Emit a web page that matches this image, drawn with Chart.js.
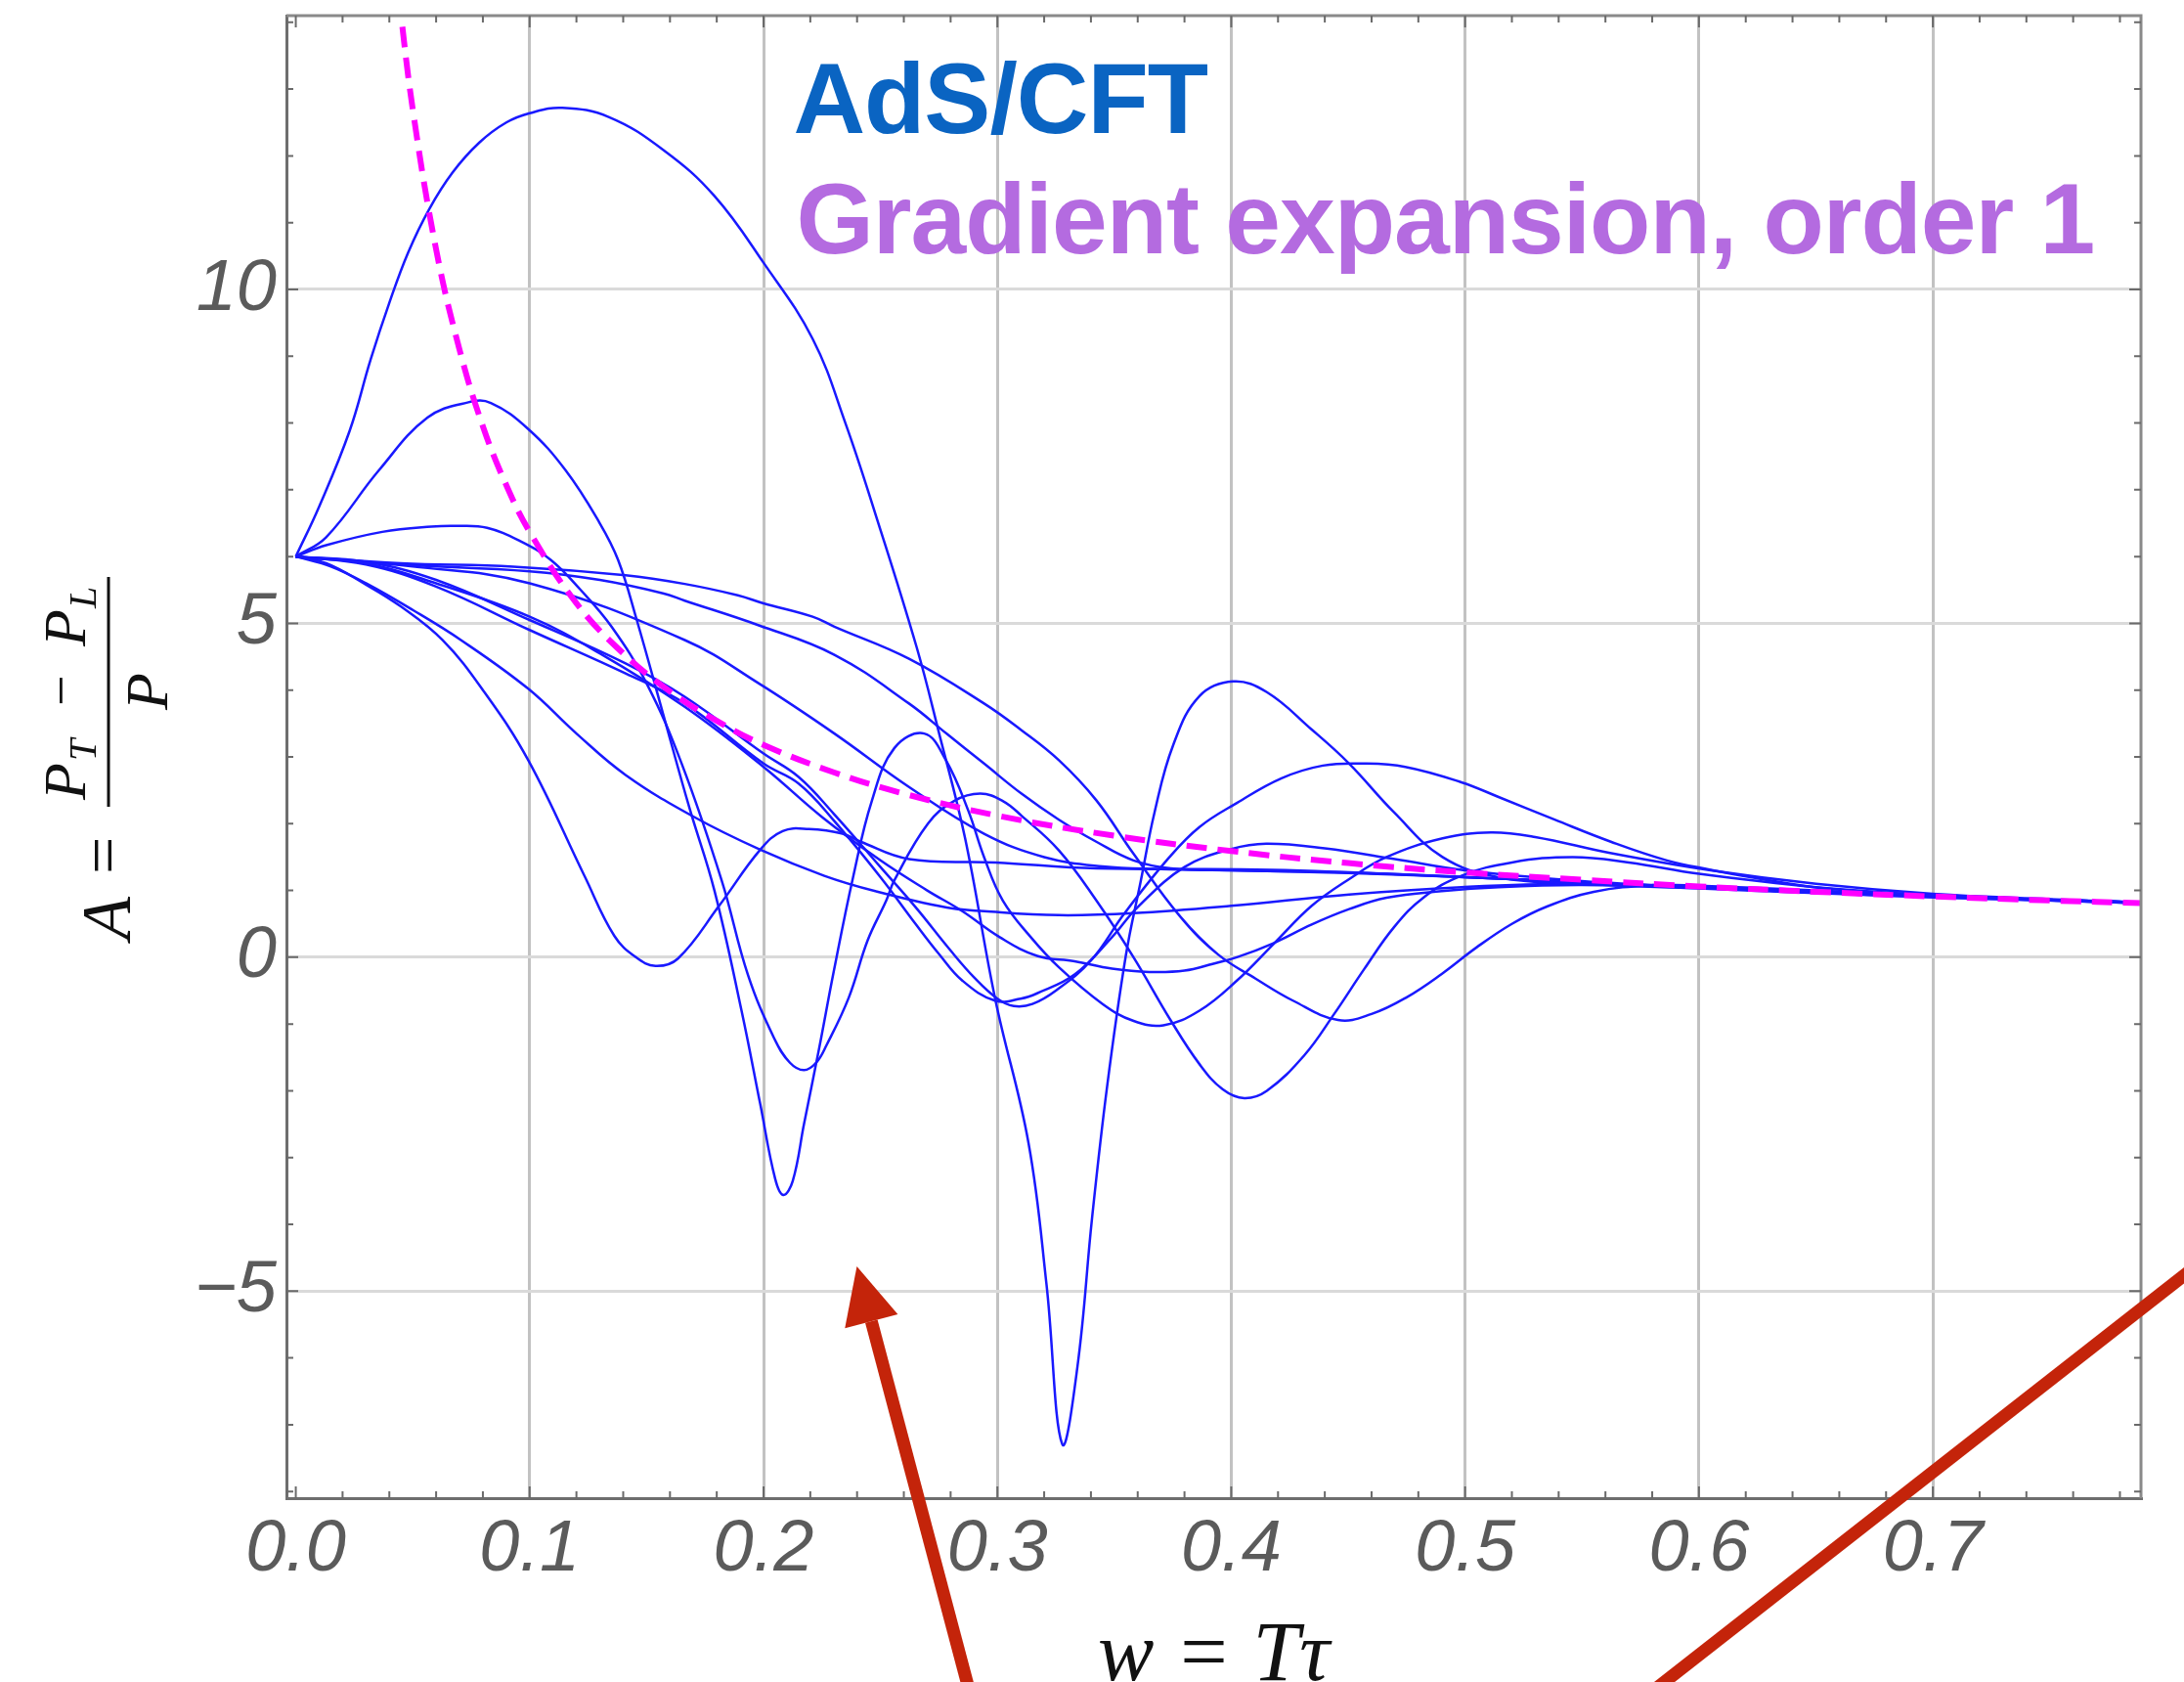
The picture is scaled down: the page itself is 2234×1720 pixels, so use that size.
<!DOCTYPE html>
<html>
<head>
<meta charset="utf-8">
<script src="https://cdn.jsdelivr.net/npm/chart.js@4.4.1/dist/chart.umd.min.js"></script>
<style>
  html, body { margin: 0; padding: 0; background: #fff; overflow: hidden; }
  canvas { display: block; }
</style>
</head>
<body>
<canvas id="myChart" width="2234" height="1760"></canvas>
<script>
// axis ticks
const xTicks = [0, 0.1, 0.2, 0.3, 0.4, 0.5, 0.6, 0.7];
const yTicks = [-5, 0, 5, 10];

// gradient expansion, order 1 (magenta dashed)
const gradW = [0.044, 0.05, 0.06, 0.07, 0.08, 0.09, 0.1, 0.12, 0.14, 0.16, 0.18, 0.2, 0.23, 0.26, 0.3, 0.35, 0.4, 0.45, 0.5, 0.55, 0.6, 0.65, 0.7, 0.75, 0.79];
const gradA = [14.4, 12.7, 10.6, 9.1, 7.95, 7.07, 6.37, 5.3, 4.55, 3.98, 3.54, 3.18, 2.77, 2.45, 2.12, 1.82, 1.59, 1.41, 1.27, 1.16, 1.06, 0.98, 0.91, 0.85, 0.81];

// AdS/CFT runs as [w, A] pairs
const runBig = [[0,6],[0.01,6.75],[0.023,7.88],[0.032,8.95],[0.04,9.8],[0.048,10.55],[0.057,11.2],[0.067,11.75],[0.0785,12.2],[0.09,12.5],[0.1,12.64],[0.114,12.72],[0.134,12.58],[0.1575,12.08],[0.179,11.4],[0.2,10.4],[0.221,9.26],[0.235,8.0],[0.248,6.62],[0.2655,4.64],[0.2751,3.35],[0.2862,1.78],[0.2991,-0.63],[0.3133,-2.78],[0.321,-4.9],[0.3277,-7.29],[0.3342,-6.14],[0.3405,-3.9],[0.3469,-1.94],[0.3549,0.02],[0.3613,1.14],[0.3672,2.17],[0.3752,3.18],[0.3864,3.91],[0.4008,4.13],[0.4152,3.97],[0.4344,3.41],[0.4504,2.9],[0.4696,2.17],[0.4903,1.5],[0.514,1.2],[0.55,1.1],[0.6,1.03],[0.65,0.96],[0.7,0.9],[0.75,0.85],[0.789,0.81]];
const runMedium = [[0,6],[0.013,6.29],[0.0355,7.29],[0.0563,8.08],[0.0738,8.31],[0.0834,8.3],[0.0994,7.91],[0.1154,7.29],[0.1298,6.51],[0.1378,5.95],[0.1458,5.05],[0.157,3.65],[0.1682,2.25],[0.179,1.0],[0.1906,-0.8],[0.1986,-2.2],[0.205,-3.32],[0.2085,-3.56],[0.2125,-3.35],[0.2173,-2.5],[0.2237,-1.38],[0.2301,-0.2],[0.2383,1.2],[0.2463,2.34],[0.2559,3.13],[0.2687,3.35],[0.278,2.95],[0.2875,2.2],[0.2943,1.5],[0.3023,0.85],[0.3143,0.3],[0.3263,-0.15],[0.345,-0.7],[0.358,-0.95],[0.371,-1.02],[0.3864,-0.8],[0.4024,-0.35],[0.4184,0.21],[0.4344,0.77],[0.4504,1.17],[0.4664,1.5],[0.4904,1.78],[0.511,1.87],[0.53,1.8],[0.562,1.56],[0.605,1.3],[0.65,1.1],[0.7,0.95],[0.75,0.87],[0.789,0.82]];
const runSmall = [[0,6],[0.013,6.17],[0.037,6.37],[0.058,6.45],[0.069,6.46],[0.0818,6.43],[0.096,6.23],[0.109,5.95],[0.1218,5.5],[0.135,4.95],[0.15,4.1],[0.165,2.9],[0.1822,1.14],[0.1933,-0.26],[0.2045,-1.21],[0.2113,-1.58],[0.2173,-1.69],[0.2225,-1.58],[0.2269,-1.32],[0.2365,-0.6],[0.2445,0.25],[0.2525,0.85],[0.2559,1.15],[0.2703,2.0],[0.2815,2.34],[0.2927,2.45],[0.3023,2.34],[0.3103,2.12],[0.3263,1.6],[0.3423,0.85],[0.3582,0.0],[0.3742,-0.95],[0.3864,-1.6],[0.3964,-1.98],[0.4056,-2.11],[0.4152,-2.0],[0.4312,-1.47],[0.444,-0.85],[0.4568,-0.18],[0.4696,0.45],[0.4824,0.9],[0.4984,1.22],[0.52,1.42],[0.546,1.5],[0.57,1.42],[0.6,1.25],[0.65,1.05],[0.7,0.93],[0.75,0.86],[0.789,0.81]];
const runFastDrop = [[0,6],[0.013,5.9],[0.029,5.6],[0.045,5.25],[0.0627,4.75],[0.08,4.0],[0.0994,2.95],[0.1234,1.22],[0.1362,0.32],[0.1454,0.0],[0.1538,-0.13],[0.1634,-0.02],[0.181,0.77],[0.1986,1.61],[0.2082,1.89],[0.2194,1.92],[0.2338,1.85],[0.2415,1.73],[0.2622,1.47],[0.2991,1.42],[0.3423,1.33],[0.417,1.31],[0.5,1.2],[0.55,1.12],[0.6,1.04],[0.65,0.97],[0.7,0.91],[0.789,0.82]];
const runSlowDrop = [[0,6],[0.015,5.85],[0.03,5.6],[0.05,5.2],[0.0706,4.75],[0.0994,4.02],[0.12,3.35],[0.141,2.73],[0.1698,2.11],[0.1986,1.61],[0.226,1.22],[0.2478,0.99],[0.2783,0.745],[0.2943,0.69],[0.3263,0.63],[0.3582,0.66],[0.4,0.77],[0.4504,0.94],[0.4984,1.05],[0.5463,1.1],[0.6,1.05],[0.65,0.97],[0.7,0.91],[0.789,0.82]];
const runShallowDip = [[0,6],[0.03,5.9],[0.06,5.6],[0.1,5.1],[0.13,4.55],[0.1663,3.75],[0.2,2.85],[0.225,2.1],[0.25,1.45],[0.27,1.0],[0.285,0.69],[0.301,0.3],[0.317,0.02],[0.333,-0.06],[0.349,-0.17],[0.365,-0.22],[0.38,-0.2],[0.392,-0.1],[0.4024,0.0],[0.418,0.21],[0.4344,0.49],[0.4504,0.72],[0.4664,0.89],[0.49,0.99],[0.5143,1.05],[0.55,1.08],[0.6,1.04],[0.65,0.97],[0.7,0.9],[0.789,0.81]];
const runTop = [[0,6],[0.045,5.9],[0.093,5.85],[0.141,5.72],[0.1663,5.59],[0.189,5.42],[0.2,5.3],[0.221,5.1],[0.2303,4.95],[0.2622,4.47],[0.2943,3.8],[0.3103,3.4],[0.3263,2.95],[0.3423,2.35],[0.3582,1.55],[0.3784,0.6],[0.3944,0.04],[0.4104,-0.32],[0.4264,-0.65],[0.4456,-0.94],[0.46,-0.85],[0.475,-0.6],[0.49,-0.25],[0.505,0.15],[0.52,0.5],[0.535,0.76],[0.555,0.98],[0.58,1.08],[0.6,1.07],[0.65,1.0],[0.7,0.92],[0.75,0.86],[0.789,0.81]];
const runSecond = [[0,6],[0.045,5.88],[0.1,5.78],[0.13,5.65],[0.157,5.45],[0.1663,5.34],[0.198,4.97],[0.2303,4.53],[0.2622,3.8],[0.2782,3.35],[0.2943,2.9],[0.3103,2.45],[0.3263,2.06],[0.3423,1.73],[0.3582,1.45],[0.3742,1.33],[0.4,1.3],[0.45,1.27],[0.5,1.2],[0.55,1.12],[0.6,1.04],[0.65,0.97],[0.7,0.91],[0.789,0.82]];
const runThird = [[0,6],[0.05,5.85],[0.1,5.6],[0.1663,4.75],[0.198,4.1],[0.2303,3.35],[0.2622,2.55],[0.2943,1.85],[0.32,1.5],[0.345,1.36],[0.37,1.32],[0.4,1.3],[0.45,1.26],[0.5,1.2],[0.55,1.12],[0.6,1.04],[0.65,0.97],[0.7,0.91],[0.789,0.82]];
const runDipEarly = [[0,6],[0.03,5.88],[0.06,5.55],[0.1,4.9],[0.141,4.25],[0.1663,3.8],[0.2,2.9],[0.215,2.6],[0.23,2.05],[0.25,1.2],[0.265,0.5],[0.275,0.05],[0.285,-0.35],[0.299,-0.65],[0.31,-0.62],[0.317,-0.54],[0.333,-0.26],[0.349,0.3],[0.36,0.75],[0.38,1.35],[0.4,1.62],[0.415,1.7],[0.44,1.63],[0.47,1.47],[0.5,1.3],[0.55,1.14],[0.6,1.05],[0.65,0.98],[0.7,0.91],[0.789,0.82]];
const runDipLate = [[0,6],[0.03,5.92],[0.06,5.65],[0.1,5.05],[0.141,4.4],[0.1663,3.9],[0.2,3.05],[0.215,2.7],[0.23,2.15],[0.25,1.35],[0.265,0.75],[0.28,0.1],[0.29,-0.3],[0.3,-0.62],[0.307,-0.73],[0.315,-0.7],[0.325,-0.5],[0.34,-0.05],[0.3544,0.66],[0.3736,1.5],[0.3864,1.95],[0.4024,2.31],[0.4215,2.68],[0.4392,2.87],[0.4568,2.9],[0.4744,2.85],[0.4984,2.62],[0.5143,2.4],[0.5383,2.06],[0.5623,1.73],[0.5863,1.45],[0.605,1.31],[0.622,1.2],[0.654,1.03],[0.702,0.92],[0.734,0.87],[0.789,0.81]];

const blueRuns = [runBig, runMedium, runSmall, runFastDrop, runSlowDrop, runShallowDip, runTop, runSecond, runThird, runDipEarly, runDipLate];

// red annotation arrows, in data units (tail, head)
const arrowTail = [0.2915, -11.45];
const arrowHead = [0.2399, -4.63];
const slashLine = [[0.5758, -11.11], [0.8182, -4.47]];

const datasets = [];
datasets.push({
  label: 'Gradient expansion, order 1',
  data: gradW.map((w, i) => ({x: w, y: gradA[i]})),
  borderColor: '#ff00ff',
  borderWidth: 6,
  borderDash: [21, 11],
  pointRadius: 0,
  tension: 0.4
});
blueRuns.forEach((run, i) => {
  datasets.push({
    label: 'AdS/CFT ' + (i + 1),
    data: run.map(p => ({x: p[0], y: p[1]})),
    borderColor: 'rgb(25,25,255)',
    borderWidth: 2.5,
    pointRadius: 0,
    tension: 0.4
  });
});

const extras = {
  id: 'extras',
  afterDatasetsDraw(chart) {
    const {ctx, chartArea: a, scales: {x, y}} = chart;
    ctx.save();
    // frame top / right
    ctx.strokeStyle = '#8a8a8a';
    ctx.lineWidth = 3;
    ctx.beginPath();
    ctx.moveTo(a.left, a.top); ctx.lineTo(a.right, a.top); ctx.lineTo(a.right, a.bottom);
    ctx.stroke();
    // minor ticks
    ctx.strokeStyle = '#6a6a6a';
    ctx.lineWidth = 2;
    ctx.beginPath();
    for (let v = -8; v <= 14; v++) {
      const py = y.getPixelForValue(v);
      const len = v % 5 === 0 ? 12 : 7;
      ctx.moveTo(a.left, py); ctx.lineTo(a.left + len, py);
      ctx.moveTo(a.right, py); ctx.lineTo(a.right - len, py);
    }
    for (let k = 0; k <= 39; k++) {
      const px = x.getPixelForValue(k * 0.02);
      const len = k % 5 === 0 ? 12 : 7;
      ctx.moveTo(px, a.top); ctx.lineTo(px, a.top + len);
      ctx.moveTo(px, a.bottom); ctx.lineTo(px, a.bottom - len);
    }
    ctx.stroke();

    // in-plot labels
    ctx.textAlign = 'left';
    ctx.textBaseline = 'alphabetic';
    ctx.letterSpacing = '-1px';
    ctx.font = 'bold 102px "Liberation Sans", Arial, sans-serif';
    ctx.fillStyle = '#0a64c2';
    ctx.fillText('AdS/CFT', x.getPixelForValue(0.2127), y.getPixelForValue(12.34));
    ctx.fillStyle = '#b46be0';
    ctx.fillText('Gradient expansion, order 1', x.getPixelForValue(0.214), y.getPixelForValue(10.54));
    ctx.restore();
  },
  afterDraw(chart) {
    const {ctx, scales: {x, y}} = chart;
    ctx.save();
    // y axis title, drawn as a fraction
    ctx.translate(111, 770);
    ctx.rotate(-Math.PI / 2);
    ctx.fillStyle = '#111';
    ctx.textAlign = 'left';
    ctx.textBaseline = 'alphabetic';
    ctx.font = 'italic 72px "Liberation Serif", serif';
    ctx.fillText('A', -191, 22);
    ctx.font = '68px "Liberation Serif", serif';
    ctx.fillText('=', -124, 17);
    ctx.fillRect(-55, -1.5, 235, 3);
    ctx.font = 'italic 62px "Liberation Serif", serif';
    ctx.fillText('P', -48, -24);
    ctx.fillText('P', 109, -24);
    ctx.fillText('P', 44, 60);
    ctx.font = 'italic 40px "Liberation Serif", serif';
    ctx.fillText('T', -8, -13);
    ctx.fillText('L', 148, -13);
    ctx.font = '56px "Liberation Serif", serif';
    ctx.fillText('\u2212', 48, -30);
    ctx.restore();

    // red arrows
    ctx.save();
    ctx.strokeStyle = '#c4240a';
    ctx.fillStyle = '#c4240a';
    ctx.lineWidth = 13;
    const tx = x.getPixelForValue(arrowTail[0]), ty = y.getPixelForValue(arrowTail[1]);
    const hx = x.getPixelForValue(arrowHead[0]), hy = y.getPixelForValue(arrowHead[1]);
    const ang = Math.atan2(hy - ty, hx - tx);
    const headLen = 58, headHalf = 28;
    const bx = hx - headLen * Math.cos(ang), by = hy - headLen * Math.sin(ang);
    ctx.beginPath();
    ctx.moveTo(tx, ty); ctx.lineTo(bx, by);
    ctx.stroke();
    ctx.beginPath();
    ctx.moveTo(hx, hy);
    ctx.lineTo(bx + headHalf * Math.sin(ang), by - headHalf * Math.cos(ang));
    ctx.lineTo(bx - headHalf * Math.sin(ang), by + headHalf * Math.cos(ang));
    ctx.closePath();
    ctx.fill();
    ctx.beginPath();
    ctx.moveTo(x.getPixelForValue(slashLine[0][0]), y.getPixelForValue(slashLine[0][1]));
    ctx.lineTo(x.getPixelForValue(slashLine[1][0]), y.getPixelForValue(slashLine[1][1]));
    ctx.stroke();
    ctx.restore();
  }
};

const tickFont = {family: '"Liberation Sans", Arial, sans-serif', size: 74, style: 'italic'};

const ctx = document.getElementById('myChart').getContext('2d');
const myChart = new Chart(ctx, {
  type: 'line',
  data: { datasets: datasets },
  options: {
    responsive: false,
    animation: false,
    devicePixelRatio: 1,
    layout: { padding: { top: 16, right: 44, left: 0, bottom: 0 } },
    plugins: { legend: { display: false }, tooltip: { enabled: false } },
    scales: {
      x: {
        type: 'linear',
        min: -0.004,
        max: 0.789,
        afterBuildTicks: axis => { axis.ticks = xTicks.map(v => ({value: v})); },
        afterFit: axis => {
          axis.height = 228;
          axis.paddingLeft = 0;
          axis.paddingRight = 0;
        },
        ticks: {
          font: tickFont,
          color: '#5b5b5b',
          padding: 9,
          maxRotation: 0,
          autoSkip: false,
          callback: v => Number(v).toFixed(1)
        },
        grid: {
          color: c => (c.tick && c.tick.value === 0) ? 'rgba(0,0,0,0)' : '#c2c2c2',
          lineWidth: 3,
          drawTicks: false
        },
        border: { display: true, color: '#6e6e6e', width: 3 },
        title: {
          display: true,
          text: 'w = T\u03c4',
          color: '#111',
          font: {family: '"Liberation Serif", serif', size: 86, style: 'italic'},
          padding: { top: 0, bottom: 13 }
        }
      },
      y: {
        min: -8.1,
        max: 14.1,
        afterBuildTicks: axis => { axis.ticks = yTicks.map(v => ({value: v})); },
        afterFit: axis => {
          axis.width = 293;
          axis.paddingTop = 0;
          axis.paddingBottom = 0;
        },
        ticks: {
          font: tickFont,
          color: '#5b5b5b',
          padding: 10,
          autoSkip: false,
          callback: v => v < 0 ? '\u2212' + Math.abs(v) : String(v)
        },
        grid: { color: '#dadada', lineWidth: 3, drawTicks: false },
        border: { display: true, color: '#6e6e6e', width: 3 }
      }
    }
  },
  plugins: [extras]
});
</script>
</body>
</html>
